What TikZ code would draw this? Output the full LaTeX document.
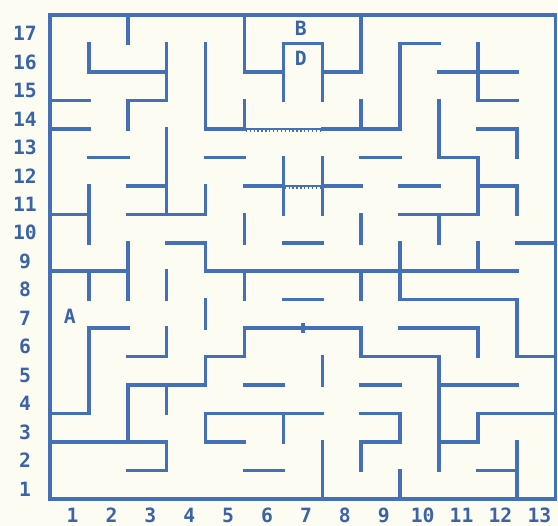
\documentclass[tikz,border=0pt]{standalone}
\usepackage{fontspec}
\setmonofont{DejaVu Sans Mono}
\usepackage{tikz}
\definecolor{paper}{HTML}{FDFCF3}
\definecolor{ink}{HTML}{4470B8}
\definecolor{inkdark}{HTML}{3A63A8}

\begin{document}
\begin{tikzpicture}[x=1.945cm,y=1.4235cm,
  wall/.style={draw=ink,line width=5pt,line cap=rect},
  door/.style={draw=ink,line width=2pt},
  lbl/.style={inner sep=0pt,text=inkdark,font=\ttfamily\bfseries\fontsize{28}{30}\selectfont}]
  \fill[paper] (-1.285,-0.948) rectangle (13.059,17.527);
  \useasboundingbox (-1.285,-0.948) rectangle (13.059,17.527);
  % outer frame
  \draw[wall] (0,0) rectangle (13,17);
  % horizontal walls, top to bottom
  \draw[wall] (6,16)--(7,16) (9,16)--(10,16);
  \draw[wall] (1,15)--(3,15) (5,15)--(6,15) (7,15)--(8,15) (10,15)--(12,15);
  \draw[wall] (0,14)--(1,14) (2,14)--(3,14) (11,14)--(12,14);
  \draw[wall] (0,13)--(1,13) (4,13)--(5,13) (7,13)--(9,13) (11,13)--(12,13);
  \draw[wall] (1,12)--(2,12) (4,12)--(5,12) (8,12)--(9,12) (10,12)--(11,12);
  \draw[wall] (2,11)--(3,11) (5,11)--(6,11) (7,11)--(8,11) (9,11)--(10,11) (11,11)--(12,11);
  \draw[wall] (0,10)--(1,10) (2,10)--(4,10) (9,10)--(11,10);
  \draw[wall] (3,9)--(4,9) (6,9)--(7,9) (12,9)--(13,9);
  \draw[wall] (0,8)--(2,8) (4,8)--(12,8);
  \draw[wall] (6,7)--(7,7) (9,7)--(12,7);
  \draw[wall] (1,6)--(2,6) (5,6)--(8,6) (9,6)--(11,6);
  \draw[wall] (2,5)--(3,5) (4,5)--(5,5) (8,5)--(10,5) (12,5)--(13,5);
  \draw[wall] (2,4)--(4,4) (5,4)--(6,4) (8,4)--(9,4) (10,4)--(12,4);
  \draw[wall] (0,3)--(1,3) (4,3)--(7,3) (8,3)--(9,3) (11,3)--(13,3);
  \draw[wall] (0,2)--(3,2) (4,2)--(5,2) (8,2)--(9,2) (10,2)--(11,2);
  \draw[wall] (2,1)--(3,1) (5,1)--(6,1) (11,1)--(12,1);
  % vertical walls, left to right
  \draw[wall] (1,16)--(1,15) (1,11)--(1,9) (1,8)--(1,7) (1,6)--(1,3);
  \draw[wall] (2,17)--(2,16) (2,14)--(2,13) (2,9)--(2,7) (2,4)--(2,2);
  \draw[wall] (3,16)--(3,14) (3,13)--(3,10) (3,8)--(3,7) (3,6)--(3,5) (3,4)--(3,3) (3,2)--(3,1);
  \draw[wall] (4,16)--(4,13) (4,11)--(4,10) (4,9)--(4,8) (4,7)--(4,6) (4,5)--(4,4) (4,3)--(4,2);
  \draw[wall] (5,17)--(5,15) (5,14)--(5,13) (5,10)--(5,9) (5,8)--(5,7) (5,6)--(5,5);
  \draw[wall] (6,16)--(6,14) (6,12)--(6,10) (6,3)--(6,2);
  \draw[wall] (7,16)--(7,14) (7,12)--(7,10) (7,5)--(7,4) (7,2)--(7,0);
  \draw[wall] (8,17)--(8,15) (8,14)--(8,13) (8,10)--(8,9) (8,8)--(8,7) (8,6)--(8,5) (8,2)--(8,1);
  \draw[wall] (9,16)--(9,13) (9,9)--(9,7) (9,3)--(9,2) (9,1)--(9,0);
  \draw[wall] (10,14)--(10,12) (10,10)--(10,9) (10,5)--(10,1);
  \draw[wall] (11,16)--(11,14) (11,12)--(11,10) (11,9)--(11,8) (11,6)--(11,5) (11,3)--(11,2);
  \draw[wall] (12,13)--(12,12) (12,11)--(12,10) (12,7)--(12,5) (12,2)--(12,0);
  % serrated doors and the marker
  \draw[door] (5,13)--(7,13) (6,11)--(7,11);
  \foreach \t in {5.05,5.15,...,6.96} \draw[door] (\t,13)--++(0,-0.11);
  \foreach \t in {6.05,6.15,...,6.96} \draw[door] (\t,11)--++(0,-0.11);
  \draw[wall,line cap=butt] (6.5,5.83)--(6.5,6.17);
  % labels
  \foreach \n in {1,...,17} \node[lbl] (row\n) at (-0.643,\n-0.65) {\n};
  \foreach \n in {1,...,13} \node[lbl] (col\n) at (\n-0.42,-0.57) {\n};
  \node[lbl] (pointA) at (0.51,6.43) {A};
  \node[lbl] (pointB) at (6.45,16.54) {B};
  \node[lbl] (pointD) at (6.45,15.49) {D};
\end{tikzpicture}
\end{document}
